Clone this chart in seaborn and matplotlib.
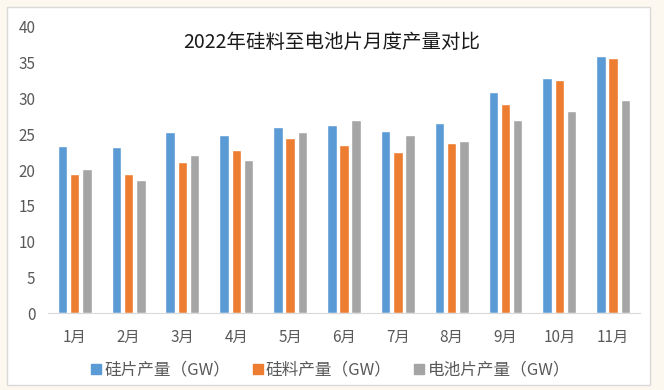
import pandas as pd
import seaborn as sns
import matplotlib.pyplot as plt
from matplotlib.patches import Rectangle

# data
months = ['1月', '2月', '3月', '4月', '5月', '6月', '7月', '8月', '9月', '10月', '11月']
wafer = [23.4, 23.2, 25.3, 24.9, 26.0, 26.3, 25.5, 26.6, 30.9, 32.9, 35.9]
polysilicon = [19.4, 19.4, 21.1, 22.8, 24.5, 23.5, 22.5, 23.8, 29.2, 32.6, 35.7]
cell = [20.1, 18.6, 22.1, 21.4, 25.3, 27.0, 24.9, 24.1, 27.0, 28.3, 29.8]
series_names = ['硅片产量（GW）', '硅料产量（GW）', '电池片产量（GW）']

df = pd.DataFrame({'month': months, series_names[0]: wafer,
                   series_names[1]: polysilicon, series_names[2]: cell})
long_df = df.melt(id_vars='month', var_name='series', value_name='value')

sns.set_style('white')
plt.rcParams['font.family'] = ['Noto Sans CJK SC', 'DejaVu Sans']

colors = ['#5B9BD5', '#ED7D31', '#A5A5A5']

fig = plt.figure(figsize=(6.64, 3.90), dpi=100)
fig.patch.set_facecolor('#fdf8ef')
# white chart area with thin border
fig.patches.append(Rectangle((7 / 664, 5 / 390), 643 / 664, 378 / 390,
                             transform=fig.transFigure, facecolor='white',
                             edgecolor='#d9d9d9', linewidth=1, zorder=-1))

ax = fig.add_axes([0.072, 0.197, 0.892, 0.734])
ax.set_zorder(1)
ax.set_facecolor('none')
sns.barplot(data=long_df, x='month', y='value', hue='series', palette=colors,
            width=0.68, gap=0.22, ax=ax, legend=False, saturation=1)

ax.set_ylim(0, 40)
ax.set_yticks(range(0, 41, 5))
ax.set_xlabel('')
ax.set_ylabel('')
for s in ['top', 'right', 'left']:
    ax.spines[s].set_visible(False)
ax.spines['bottom'].set_color('#d9d9d9')
ax.tick_params(axis='both', length=0, labelsize=11, colors='#595959')
ax.tick_params(axis='x', pad=11)
ax.tick_params(axis='y', pad=9)

fig.text(0.5, 0.892, '2022年硅料至电池片月度产量对比', ha='center', va='center',
         fontsize=14, color='#1a1a1a', zorder=2)

handles = [plt.Line2D([], [], marker='s', linestyle='', color=c, markersize=7)
           for c in colors]
leg = fig.legend(handles, series_names, loc='center', bbox_to_anchor=(0.497, 0.051),
                 ncol=3, frameon=False, fontsize=12, handlelength=0.7,
                 handletextpad=0.15, columnspacing=1.3, labelcolor='#595959')
leg.set_zorder(2)

fig.savefig('out.png', dpi=100, facecolor=fig.get_facecolor())
